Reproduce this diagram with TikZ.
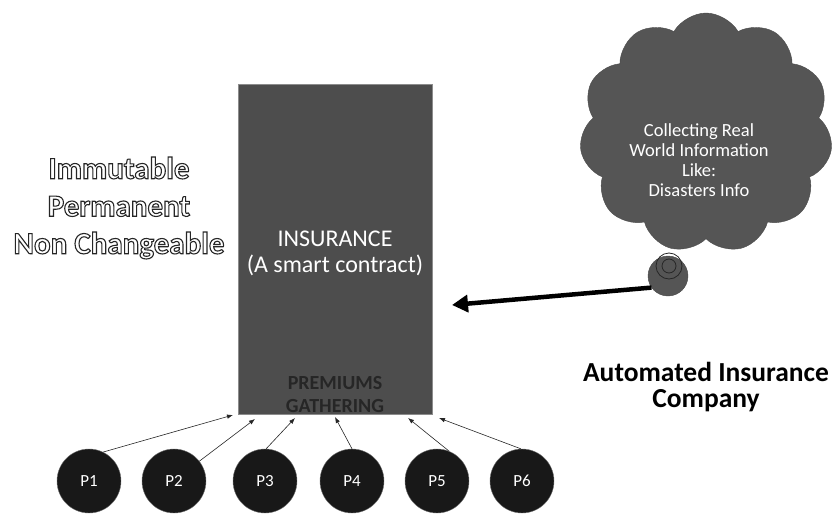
\documentclass[tikz,border=0pt]{standalone}
\usepackage{fontspec}
\setmainfont{Carlito}
\usetikzlibrary{arrows.meta,shapes.symbols}

\definecolor{insgray}{HTML}{4D4D4D}
\definecolor{cloudgray}{HTML}{555555}
\definecolor{payerblack}{HTML}{181818}

% white letters with a dark rim
\newcommand{\rimtext}[1]{{\color{white}\special{pdf:literal direct 2 Tr 0.15 G 1.1 w}#1\special{pdf:literal direct 0 Tr}}}

\tikzset{
  payer/.style={circle, fill=payerblack, draw=black!55, minimum size=64pt, inner sep=0pt,
    text=white, font=\fontsize{17}{17}\selectfont},
  premarrow/.style={-{Latex[length=6pt,width=4.5pt]}, line width=.6pt, black!85},
  feedarrow/.style={-{Triangle[length=16pt,width=17pt]}, line width=4.5pt},
}

\begin{document}
\begin{tikzpicture}[x=1pt, y=-1pt]
      \useasboundingbox (0,0) rectangle (833,514);
      %%the contract
      \node[draw=black!45, fill=insgray, minimum width=194pt, minimum height=330pt, inner sep=0pt]
        (ins) at (335,249.5) {};
      \node[align=center, text=white, font=\fontsize{24}{26}\selectfont] (instext)
        at ([yshift=-4pt]ins.center) {INSURANCE\\(A smart contract)};
      \node[anchor=south, inner sep=2pt, align=center, text=black!85,
        font=\fontsize{20}{23}\selectfont\bfseries] (prem)
        at (ins.south) {PREMIUMS\\GATHERING};

      %%left text
      \node[align=center, font=\fontsize{31}{37.5}\selectfont\bfseries] (props) at (119,208)
        {\rimtext{Immutable}\\\rimtext{Permanent}\\\rimtext{Non Changeable}};

      %%cloud
      \node[cloud, cloud puffs=11, cloud puff arc=120, draw=black!70, fill=cloudgray,
        minimum width=253pt, minimum height=240pt, inner sep=0pt] (info) at (706,133) {};
      \node[align=center, text=white, font=\fontsize{18.5}{20}\selectfont] (infotext) at (699,160)
        {Collecting Real\\World Information\\Like:\\Disasters Info};
      \node[circle, draw=black!70, fill=cloudgray, minimum size=40pt, inner sep=0pt] (bubble) at (668,276) {};
        \draw[black!85, line width=.8pt] (669,266) circle (13);
        \draw[black!85, line width=.8pt] (669,266) circle (7);

      %%company
      \node[align=center, font=\fontsize{27.5}{25.5}\selectfont\bfseries] (company) at (706,387)
        {Automated Insurance\\Company};

      \coordinate (hit) at (452,305);
      \draw[feedarrow] (bubble.215) -- (hit);

      %%payers
      \foreach \i/\x in {1/89,2/174,3/265,4/352,5/437,6/522}
        \node[payer] (p\i) at (\x,481) {P\i};

      \coordinate (t1) at (233,415);
      \coordinate (t2) at (255,419);
      \coordinate (t3) at (295,418);
      \coordinate (t4) at (335,417);
      \coordinate (t5) at (408,418);
      \coordinate (t6) at (439,418);
      \draw[premarrow] (p1.64) -- (t1);
      \draw[premarrow] (p2.38) -- (t2);
      \draw[premarrow] (p3.88) -- (t3);
      \draw[premarrow] (p4.90) -- (t4);
      \draw[premarrow] (p5.68) -- (t5);
      \draw[premarrow] (p6.92) -- (t6);
\end{tikzpicture}
\end{document}
